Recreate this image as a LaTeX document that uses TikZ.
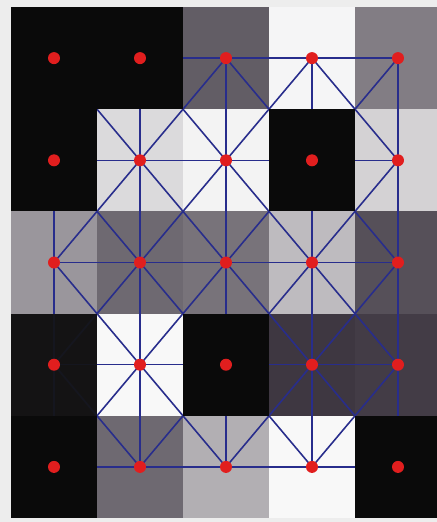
\documentclass[tikz,border=0pt]{standalone}
\usepackage{tikz}
\usetikzlibrary{positioning,calc}

\definecolor{meshblue}{RGB}{40,45,140}
\definecolor{dotred}{RGB}{225,30,30}
\definecolor{ink}{RGB}{14,5,18}
\tikzset{
  mesh/.style={meshblue, line width=0.9pt},
  dot/.style={circle, fill=dotred, inner sep=0pt, minimum size=0.24cm}
}

\begin{document}
\begin{tikzpicture}[x=0.02cm, y=-0.02cm]
\useasboundingbox (0,0) rectangle (437,522);
\fill[black!7] (0,0) rectangle (437,522);
\begin{scope}
\clip (0,0) rectangle (437,522);
% gray cells, row/column/darkness
\foreach \r/\c/\g in {1/1/97, 1/2/97, 1/3/65, 1/4/4,  1/5/52,
                      2/1/97, 2/2/15, 2/3/5,  2/4/97, 2/5/18,
                      3/1/42, 3/2/60, 3/3/56, 3/4/27, 3/5/70,
                      4/1/95, 4/2/3,  4/3/97, 4/4/80, 4/5/78,
                      5/1/95, 5/2/60, 5/3/32, 5/4/3,  5/5/97}
  \fill[ink!\g] ({11+86*(\c-1)},{7+102.2*(\r-1)}) rectangle ++(86,102.2);
% cell centres
\foreach \r in {1,...,5}
  \foreach \c in {1,...,5}
    \coordinate (n\r\c) at ({11+86*(\c-0.5)},{7+102.2*(\r-0.5)});
% mesh
\foreach \r in {1,...,5}
  \foreach \c in {1,...,4} {
    \pgfmathtruncatemacro\cnext{\c+1}
    \draw[mesh] (n\r\c) -- (n\r\cnext);
  }
\foreach \r in {1,...,4}
  \foreach \c in {1,...,5} {
    \pgfmathtruncatemacro\rnext{\r+1}
    \draw[mesh] (n\r\c) -- (n\rnext\c);
  }
\foreach \r in {1,...,4}
  \foreach \c in {1,...,4} {
    \pgfmathtruncatemacro\rnext{\r+1}
    \pgfmathtruncatemacro\cnext{\c+1}
    \draw[mesh] (n\r\c) -- (n\rnext\cnext);
    \draw[mesh] (n\r\cnext) -- (n\rnext\c);
  }
% dark cells hide the mesh
\foreach \r/\c in {1/1, 1/2, 2/1, 2/4, 4/3, 5/1, 5/5}
  \fill[black!96] ({11+86*(\c-1)},{7+102.2*(\r-1)}) rectangle ++(86,102.2);
\fill[black!92, opacity=0.9] ({11},{7+102.2*3}) rectangle ++(86,102.2);
% red samples
\foreach \r in {1,...,5}
  \foreach \c in {1,...,5}
    \node[dot] (p\r\c) at (n\r\c) {};
\end{scope}
\end{tikzpicture}
\end{document}
